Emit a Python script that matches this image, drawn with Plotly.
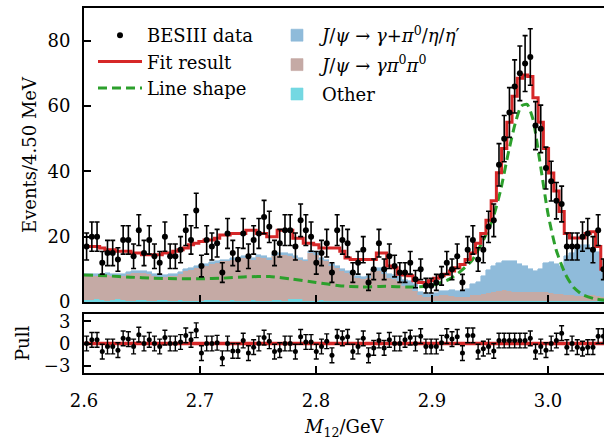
import numpy as np
import plotly.graph_objects as go

# ---------------- data ----------------
bin_lo = 2.6
bin_w = 0.0045
n_bins = 100

data_counts = [17, 20, 20, 12, 15, 15, 13, 19, 19, 14,
               22, 15, 19, 14, 12, 20, 14, 14, 16, 22,
               19, 28, 11, 19, 17, 18, 9, 21, 15, 13,
               21, 14, 19, 21, 26, 23, 15, 18, 22, 22,
               17, 25, 22, 20, 12, 15, 18, 9, 22, 19,
               18, 9, 12, 16, 6, 10, 18, 10, 14, 11,
               9, 9, 12, 7, 10, 5, 5, 6, 8, 12,
               10, 14, 6, 16, 19, 13, 16, 23, 25, 42,
               50, 58, 66, 70, 73, 75, 54, 53, 41, 37,
               31, 30, 17, 17, 17, 20, 21, 16, 22, 10]

fit_result = [17, 17, 17, 16.5, 16, 16, 15.5, 15.5, 15.5, 15,
              15, 14.5, 14.5, 14.5, 14.5, 15, 15, 15.5, 16, 16.5,
              17.5, 18, 18.5, 19, 19, 19.5, 20.5, 20.5, 21, 21,
              21, 22, 22, 21, 21, 20, 20, 22, 22, 22,
              19.5, 19.5, 18, 18, 17.5, 16.5, 16.5, 16.5, 16.5, 15.5,
              13.5, 13, 13, 13, 13, 13, 15, 15, 11, 10.5,
              8.5, 8.3, 8, 6.5, 6, 5.8, 6.5, 7.3, 8, 8.5,
              9.5, 10.5, 11.5, 13, 15, 18, 21, 25, 31, 39.6,
              47, 55, 63, 68.5, 69.5, 69, 62.5, 55, 47, 39.5,
              34, 27.7, 21, 19.6, 19.6, 19.6, 21, 21.5, 17, 10]

bkg_other = [0.5, 0.6, 0.8, 0.5, 0.4, 0.7, 0.8, 0.5, 0.4, 0.4,
             0.5, 0.5, 0.4, 0.4, 0.5, 0.6, 0.4, 0.4, 0.5, 0.4,
             0.4, 0.4, 0.4, 0.5, 0.7, 0.5, 0.4, 0.4, 0.5, 0.4,
             0.4, 0.4, 0.5, 0.4, 0.4, 0.4, 0.5, 0.6, 0.4, 0.9,
             1.0, 0.8, 0.4, 0.4, 0.4, 0.5, 0.4, 0.4, 0.4, 0.4,
             0.4, 0.4, 0.3, 0.3, 0.3, 0.3, 0.3, 0.3, 0.3, 0.3,
             0.3, 0.3, 0.3, 0.3, 0.3, 0.3, 0.3, 0.3, 0.3, 0.3,
             0.3, 0.3, 0.3, 0.3, 0.3, 0.3, 0.3, 0.3, 0.3, 0.3,
             0.3, 0.3, 0.3, 0.3, 0.3, 0.3, 0.3, 0.3, 0.3, 0.3,
             0.3, 0.3, 0.3, 0.3, 0.3, 0.3, 0.3, 0.3, 0.3, 0.3]

bkg_gpi0pi0 = [7.6, 7.5, 7.2, 7.5, 7.8, 7.2, 7.3, 7.5, 8.1, 8.6,
               8.5, 8.3, 8.1, 7.6, 7.1, 7.0, 7.6, 7.6, 8.1, 9.0,
               9.5, 10.0, 10.5, 10.5, 10.8, 11.5, 12.0, 12.0, 12.5, 12.5,
               13.0, 13.0, 12.5, 13.5, 13.0, 12.5, 13.5, 13.9, 14.0, 13.1,
               12.5, 12.1, 12.0, 14.5, 14.0, 12.5, 12.0, 10.5, 10.0, 9.0,
               8.5, 8.0, 7.2, 6.7, 7.2, 9.2, 9.2, 8.2, 7.2, 6.7,
               6.2, 4.7, 4.2, 3.2, 1.7, 1.2, 1.2, 1.5, 1.7, 1.7,
               1.5, 1.2, 1.2, 1.2, 1.7, 1.9, 2.2, 2.5, 2.7, 3.2,
               3.4, 3.2, 2.9, 2.7, 2.7, 2.9, 2.7, 2.9, 2.7, 2.5,
               2.2, 2.2, 1.9, 1.7, 1.5, 1.5, 1.7, 1.7, 1.5, 1.2]

bkg_gpi_eta = [0.6, 0.6, 0.5, 0.6, 0.6, 0.6, 0.5, 0.6, 0.6, 0.6,
               0.6, 0.6, 0.6, 0.6, 0.6, 0.6, 0.6, 0.6, 0.6, 0.6,
               0.6, 0.6, 0.6, 0.6, 0.6, 0.6, 0.6, 0.6, 0.6, 0.6,
               0.6, 0.6, 0.6, 0.6, 0.6, 0.6, 0.6, 0.6, 0.6, 0.6,
               0.6, 0.6, 0.6, 0.6, 0.6, 0.6, 0.6, 0.6, 0.6, 0.6,
               0.6, 0.6, 0.6, 0.6, 0.6, 0.7, 0.8, 1.0, 1.0, 1.2,
               1.5, 1.8, 1.8, 2.0, 1.0, 1.0, 1.0, 1.0, 1.5, 1.5,
               2.0, 2.0, 2.0, 2.5, 3.5, 4.0, 5.5, 7.0, 8.0, 8.5,
               8.7, 9.0, 9.3, 8.5, 8.0, 7.0, 6.5, 7.0, 9.0, 9.5,
               9.0, 8.5, 12.0, 13.0, 14.5, 15.5, 15.5, 14.5, 13.5, 8.0]

line_shape_m = [2.600, 2.620, 2.640, 2.660, 2.680, 2.700, 2.720, 2.740, 2.760,
                2.780, 2.800, 2.820, 2.840, 2.860, 2.880, 2.895, 2.905, 2.915,
                2.925, 2.935, 2.945, 2.952, 2.959, 2.966, 2.972, 2.977, 2.982,
                2.987, 2.993, 3.000, 3.007, 3.015, 3.022, 3.030, 3.040, 3.050]
line_shape_v = [8.3, 8.0, 7.6, 7.3, 7.1, 7.1, 7.3, 7.7, 7.8,
                7.0, 6.0, 5.0, 4.6, 4.8, 4.6, 4.8, 5.6, 7.0,
                9.5, 13.0, 19.5, 25.0, 34.0, 46.0, 55.0, 60.0, 60.5,
                56.0, 43.0, 27.0, 16.0, 8.5, 4.5, 2.2, 1.0, 0.5]

pull_values = [0, 0.5, 0.5, -1.1, -0.4, -0.4, -0.9, 0.7, 0.6, -0.4,
               1.2, 0, 0.5, 0, -0.4, 0.8, 0, 0, 0.2, 1.1,
               0.5, 1.8, -1.3, 0, 0, 0.1, -2.0, 0, -1.0, -1.0,
               0.4, -1.3, -0.5, 0, 0.8, 0.3, -1.1, -0.9, 0, 0,
               -1.1, 0.9, 0.2, 0.2, -1.1, -0.4, 0.3, -1.6, 0.9, 0.7,
               0.9, -1.1, -0.4, 0.7, -1.6, -0.6, 0.4, -0.6, 0.5, 0,
               0, 0.5, 0.8, 0, 1.0, -0.4, -0.4, -0.4, 0.1, 1.0,
               0.6, 0.9, -1.3, 1.1, 1.1, -1.1, -0.7, -0.4, -1.0, 0.4,
               0.4, 0.4, 0.4, 0.4, 0.4, 0.7, -1.1, -0.4, -0.9, 0,
               0.4, 1.4, -0.5, 0, -0.5, -0.7, -0.5, -0.5, 1.0, 1.0]
pull_err = 1.0

x_ticks = [2.6, 2.7, 2.8, 2.9, 3.0]
x_tick_labels = ["2.6", "2.7", "2.8", "2.9", "3.0"]
y_ticks = [0, 20, 40, 60, 80]
pull_ticks = [-3, 0, 3]

# ---------------- derived bin geometry ----------------
edges = bin_lo + bin_w * np.arange(n_bins + 1)
centers = 0.5 * (edges[:-1] + edges[1:])

FONT = "DejaVu Serif"
C_BLUE = "#8fbbda"
C_BROWN = "#c5aaa5"
C_CYAN = "#74d8e2"
C_RED = "#d62728"
C_GREEN = "#2ca02c"

fig = go.Figure()

# stacked backgrounds (bottom -> top); legendrank gives top-to-bottom legend order
for rank, name, vals, col in [
        (3, "Other", bkg_other, C_CYAN),
        (2, "<i>J</i>/<i>ψ</i> → <i>γπ</i><sup>0</sup><i>π</i><sup>0</sup>", bkg_gpi0pi0, C_BROWN),
        (1, "<i>J</i>/<i>ψ</i> → <i>γ</i>+<i>π</i><sup>0</sup>/<i>η</i>/<i>η</i>′", bkg_gpi_eta, C_BLUE)]:
    fig.add_trace(go.Bar(x=centers, y=vals, width=bin_w, name=name, legendgroup=f"bkg{rank}",
                         legendrank=rank,
                         marker=dict(color=col, line=dict(color=col, width=0.6)),
                         xaxis="x2", yaxis="y2", legend="legend2"))

fig.add_trace(go.Scatter(x=line_shape_m, y=line_shape_v, mode="lines", name="Line shape",
                         line=dict(color=C_GREEN, width=3, dash="9px,5px", shape="spline", smoothing=0.6),
                         xaxis="x2", yaxis="y2", legend="legend"))

fig.add_trace(go.Scatter(x=list(edges), y=fit_result + [fit_result[-1]], mode="lines",
                         name="Fit result", line=dict(color=C_RED, width=3, shape="hv"),
                         xaxis="x2", yaxis="y2", legend="legend"))

fig.add_trace(go.Scatter(x=centers, y=data_counts, mode="markers", name="BESIII data",
                         marker=dict(color="black", size=6),
                         error_y=dict(type="sqrt", color="black", thickness=1.6, width=2.5),
                         xaxis="x2", yaxis="y2", legend="legend"))

# pull panel
fig.add_trace(go.Scatter(x=[edges[0], edges[-1]], y=[0, 0], mode="lines",
                         line=dict(color=C_RED, width=3.5), showlegend=False,
                         xaxis="x", yaxis="y"))
fig.add_trace(go.Scatter(x=centers, y=pull_values, mode="markers", showlegend=False,
                         marker=dict(color="black", size=5),
                         error_y=dict(type="constant", value=pull_err, color="black", thickness=1.4, width=2.5),
                         xaxis="x", yaxis="y"))

W, H = 604, 440
ml, mr, mt, mb = 84, 0, 8, 67
pw, ph = W - ml - mr, H - mt - mb
x_hi = 2.6 + pw / 1160.0

axis_common = dict(showline=True, linecolor="black", linewidth=2, ticks="inside",
                   ticklen=7, tickwidth=2, tickcolor="black", showgrid=False, zeroline=False,
                   tickfont=dict(family=FONT, size=18, color="black"))

legend_font = dict(family=FONT, size=18, color="black")

fig.update_layout(
    width=W, height=H, margin=dict(l=ml, r=mr, t=mt, b=mb),
    paper_bgcolor="white", plot_bgcolor="white",
    barmode="stack", bargap=0,
    font=dict(family=FONT, size=18, color="black"),
    xaxis=dict(domain=[0, 1], anchor="y", range=[2.6, x_hi], tickvals=x_ticks,
               ticktext=x_tick_labels, mirror=True, ticklabelstandoff=10, **axis_common),
    yaxis=dict(domain=[0, (373 - 314) / ph], anchor="x", range=[-4, 4], tickvals=pull_ticks,
               ticklabelstandoff=8, **axis_common),
    xaxis2=dict(domain=[0, 1], anchor="y2", range=[2.6, x_hi], tickvals=x_ticks,
                showticklabels=False, matches="x", mirror=True, **axis_common),
    yaxis2=dict(domain=[(373 - 302) / ph, 1], anchor="x2", range=[0, 90], tickvals=y_ticks,
                ticklabelstandoff=8, **axis_common),
    legend=dict(x=(93 - ml) / pw, y=(373 - 17) / ph, xanchor="left", yanchor="top",
                traceorder="reversed", bgcolor="rgba(0,0,0,0)", itemwidth=44,
                font=legend_font),
    legend2=dict(x=(272 - ml) / pw, y=(373 - 17) / ph, xanchor="left", yanchor="top",
                 traceorder="grouped", tracegroupgap=3, bgcolor="rgba(0,0,0,0)",
                 itemwidth=40, font=legend_font),
    annotations=[
        dict(text="Events/4.50 MeV", x=(29 - ml) / pw, y=(373 - 155) / ph, xref="paper", yref="paper",
             textangle=-90, showarrow=False, xanchor="center", yanchor="middle",
             font=dict(family=FONT, size=18, color="black")),
        dict(text="Pull", x=(22 - ml) / pw, y=(373 - 344) / ph, xref="paper", yref="paper",
             textangle=-90, showarrow=False, xanchor="center", yanchor="middle",
             font=dict(family=FONT, size=18, color="black")),
        dict(text="<i>M</i><sub>12</sub>/GeV", x=(344 - ml) / pw, y=(373 - 428) / ph,
             xref="paper", yref="paper", showarrow=False, xanchor="center", yanchor="middle",
             font=dict(family=FONT, size=18, color="black")),
    ],
)

fig.write_html("out.html")
